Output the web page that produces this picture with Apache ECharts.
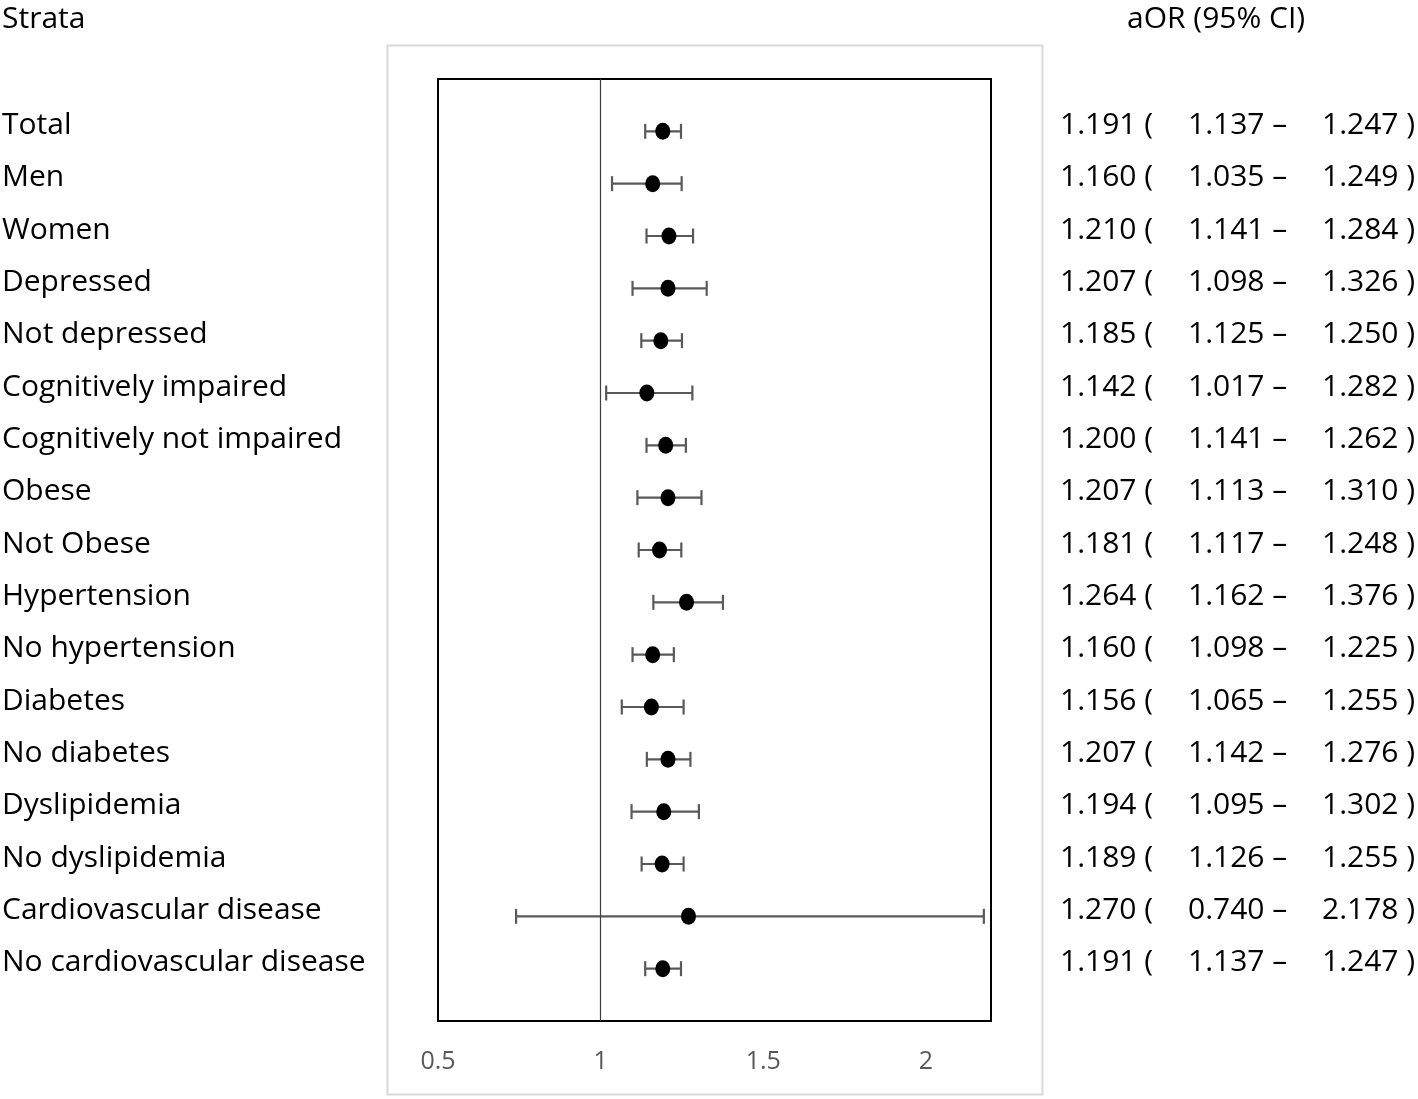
<!DOCTYPE html>
<html>
<head>
<meta charset="utf-8">
<script src="https://cdn.jsdelivr.net/npm/echarts@6/dist/echarts.min.js"></script>
<style>
html,body{margin:0;padding:0;background:#fff;}
#c{width:1418px;height:1099px;}
</style>
</head>
<body>
<div id="c"></div>
<script>
const strata = ["Total","Men","Women","Depressed","Not depressed","Cognitively impaired","Cognitively not impaired","Obese","Not Obese","Hypertension","No hypertension","Diabetes","No diabetes","Dyslipidemia","No dyslipidemia","Cardiovascular disease","No cardiovascular disease"];
const aor   = [1.191,1.160,1.210,1.207,1.185,1.142,1.200,1.207,1.181,1.264,1.160,1.156,1.207,1.194,1.189,1.270,1.191];
const lower = [1.137,1.035,1.141,1.098,1.125,1.017,1.141,1.113,1.117,1.162,1.098,1.065,1.142,1.095,1.126,0.740,1.137];
const upper = [1.247,1.249,1.284,1.326,1.250,1.282,1.262,1.310,1.248,1.376,1.225,1.255,1.276,1.302,1.255,2.178,1.247];
const xTicks = [0.5, 1, 1.5, 2];

const FONT = "'Open Sans','Noto Sans',sans-serif";
const FS = 30;
const chart = echarts.init(document.getElementById('c'), null, {renderer:'canvas'});

const pointData = aor.map((v,i)=>[v,i]);
const ciData = lower.map((l,i)=>[i,l,upper[i]]);

chart.setOption({
  animation:false,
  backgroundColor:'#fff',
  graphic:[
    {type:'rect', shape:{x:387.5,y:45.5,width:655,height:1049}, style:{fill:'none',stroke:'#d9d9d9',lineWidth:2}, z:-1},
    {type:'text', left:2, top:4, style:{text:'Strata', font:FS+'px '+FONT, fill:'#000'}},
    {type:'text', left:1127, top:4, style:{text:'aOR (95% CI)', font:FS+'px '+FONT, fill:'#000'}}
  ],
  grid:{left:438, right:427, top:79, bottom:78, show:true, borderColor:'#000', borderWidth:2, outerBoundsMode:'none', containLabel:false},
  xAxis:{
    type:'value', min:0.5, max:2.2, interval:0.5,
    axisLine:{show:false}, axisTick:{show:false}, splitLine:{show:false},
    axisLabel:{
      margin:28, fontSize:25, color:'#595959', fontFamily:FONT,
      showMaxLabel:false,
      formatter:(v)=> xTicks.indexOf(Math.round(v*10)/10)>=0 ? String(Math.round(v*10)/10) : ''
    }
  },
  yAxis:[
    {
      type:'value', min:-1, max:17, interval:1, inverse:true, position:'left',
      axisLine:{show:false}, axisTick:{show:false}, splitLine:{show:false},
      axisLabel:{
        align:'left', margin:436,
        showMinLabel:false, showMaxLabel:false,
        formatter:(v)=> strata[v] !== undefined ? '{n|' + strata[v] + '}' : '',
        rich:{
          n:{fontSize:FS, fontFamily:FONT, color:'#000', padding:[0,0,12,0]}
        }
      }
    },
    {
      type:'value', min:-1, max:17, interval:1, inverse:true, position:'right',
      axisLine:{show:false}, axisTick:{show:false}, splitLine:{show:false},
      axisLabel:{
        align:'left', margin:69,
        showMinLabel:false, showMaxLabel:false,
        formatter:(v)=> {
          if (aor[v] === undefined) return '';
          return '{a|' + aor[v].toFixed(3) + ' (}{b|' + lower[v].toFixed(3) + ' \u2013}{c|' + upper[v].toFixed(3) + ' )}';
        },
        rich:{
          a:{width:128, fontSize:FS, fontFamily:FONT, color:'#000', padding:[0,0,12,0]},
          b:{width:134, fontSize:FS, fontFamily:FONT, color:'#000', padding:[0,0,12,0]},
          c:{fontSize:FS, fontFamily:FONT, color:'#000', padding:[0,0,12,0]}
        }
      }
    }
  ],
  series:[
    {
      type:'custom',
      yAxisIndex:0,
      data:ciData,
      encode:{x:[1,2], y:0},
      z:2,
      renderItem:(params, api)=>{
        const i = api.value(0);
        const p1 = api.coord([api.value(1), i]);
        const p2 = api.coord([api.value(2), i]);
        const h = 7.5;
        const st = {stroke:'#595959', lineWidth:2.2, fill:'none'};
        return {type:'group', children:[
          {type:'line', shape:{x1:p1[0],y1:p1[1],x2:p2[0],y2:p2[1]}, style:st},
          {type:'line', shape:{x1:p1[0],y1:p1[1]-h,x2:p1[0],y2:p1[1]+h}, style:st},
          {type:'line', shape:{x1:p2[0],y1:p2[1]-h,x2:p2[0],y2:p2[1]+h}, style:st}
        ]};
      }
    },
    {
      type:'scatter',
      yAxisIndex:0,
      data:pointData,
      symbol:'circle',
      symbolSize:[15,17],
      itemStyle:{color:'#000', opacity:1},
      z:3,
      markLine:{
        silent:true, symbol:'none', label:{show:false},
        lineStyle:{color:'#404040', width:1.2, type:'solid'},
        data:[{xAxis:1}]
      }
    }
  ]
});
</script>
</body>
</html>
